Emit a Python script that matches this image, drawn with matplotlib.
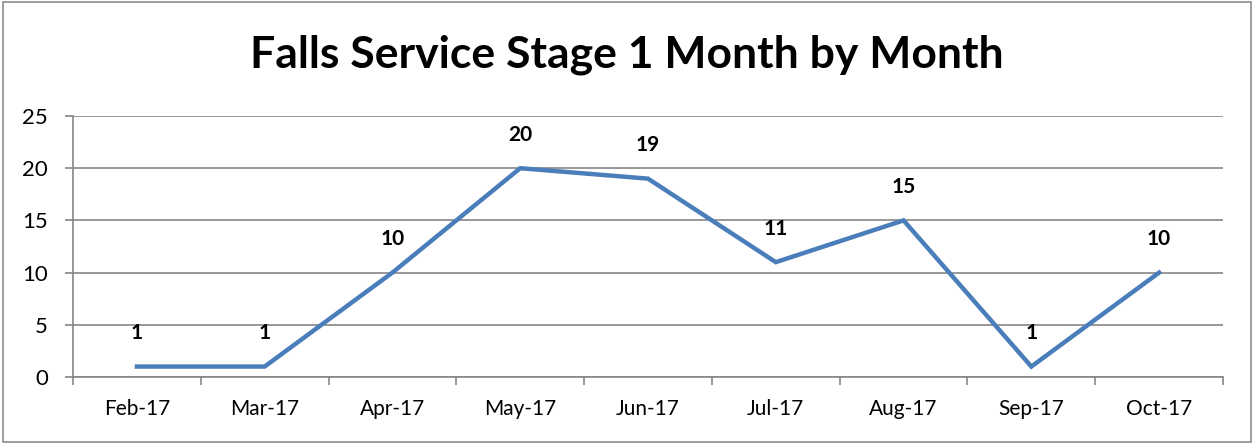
import numpy as np
import matplotlib
matplotlib.use('Agg')
import matplotlib.pyplot as plt
from matplotlib.patches import Rectangle

plt.rcParams['font.family'] = ['Lato', 'DejaVu Sans']

months = ['Feb-17', 'Mar-17', 'Apr-17', 'May-17', 'Jun-17', 'Jul-17', 'Aug-17', 'Sep-17', 'Oct-17']
counts = [1, 1, 10, 20, 19, 11, 15, 1, 10]
yticks = [0, 5, 10, 15, 20, 25]

fig = plt.figure(figsize=(12.54, 4.44), dpi=100)
ax = fig.add_axes([73/1254, 67/444, 1150/1254, 261/444])

x = np.arange(len(months))
ax.plot(x, counts, color='#4a7ebb', lw=3.2, solid_joinstyle='miter', zorder=3)
for xi, v in zip(x, counts):
    ax.annotate(str(v), (xi, v), xytext=(0, 24), textcoords='offset points',
                ha='center', va='center', fontsize=15, fontweight='bold', color='black')

ax.set_xlim(-0.5, len(months) - 0.5)
ax.set_ylim(0, 25)
ax.set_yticks(yticks)
ax.set_yticklabels([str(t) for t in yticks], fontsize=16)
ax.set_xticks(x)
ax.set_xticklabels(months, fontsize=15)
ax.set_xticks(np.arange(-0.5, len(months)), minor=True)
ax.tick_params(axis='x', which='major', length=0, pad=16)
ax.tick_params(axis='x', which='minor', length=6, width=1.2, color='#868686', direction='out')
ax.tick_params(axis='y', length=6, width=1.2, color='#868686', pad=12)
ax.grid(axis='y', color='#868686', lw=1.2)
ax.set_axisbelow(True)
for s in ['top', 'right']:
    ax.spines[s].set_visible(False)
ax.spines['left'].set_color('#868686')
ax.spines['bottom'].set_color('#868686')
ax.spines['left'].set_linewidth(1.2)
ax.spines['bottom'].set_linewidth(1.2)

fig.text(0.5, 1 - 55/444, 'Falls Service Stage 1 Month by Month', ha='center', va='center',
         fontsize=32, fontweight='bold')
fig.patches.append(Rectangle((3/1254, 2/444), 1248/1254, 440/444, transform=fig.transFigure,
                             fill=False, edgecolor='#8c8c8c', lw=1.2))

plt.savefig('out.png', dpi=100)
